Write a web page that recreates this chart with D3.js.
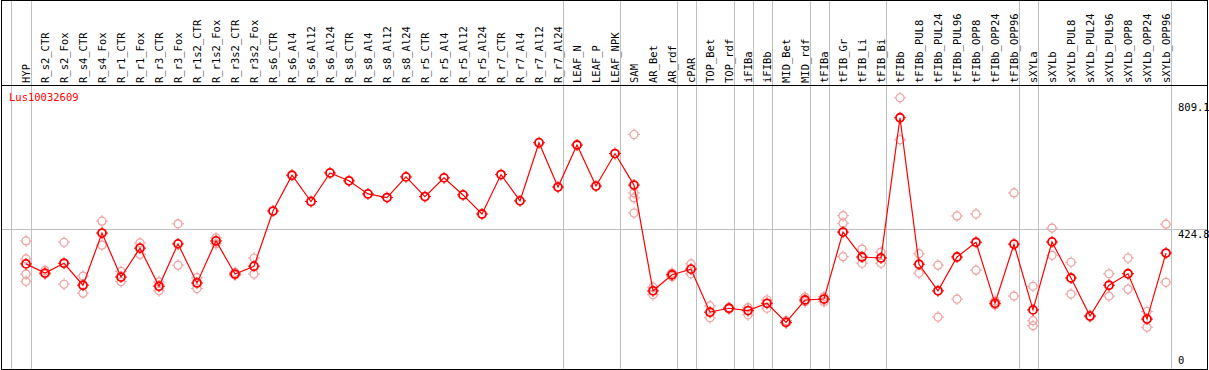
<!DOCTYPE html>
<html lang="en">
<head>
  <meta charset="UTF-8" />
  <title>Lus10032609 expression</title>
  <script src="https://d3js.org/d3.v7.min.js"></script>
  <style>
    body {
      margin: 0;
      background: white;
    }
    svg {
      display: block;
      font-family: "DejaVu Sans Mono", monospace;
    }
    .grid {
      stroke: #c0c0c0;
      stroke-width: 1;
      shape-rendering: crispEdges;
    }
    .frame {
      fill: none;
      stroke: black;
      stroke-width: 1;
      shape-rendering: crispEdges;
    }
  </style>
</head>
<body>
  <svg width="1209" height="370"></svg>
  <script>
    const svg = d3.select("svg");

    // Tissues / conditions, in plotted order
    const categories = [
      "HYP", "R_s2_CTR", "R_s2_Fox", "R_s4_CTR", "R_s4_Fox", "R_r1_CTR", "R_r1_Fox",
      "R_r3_CTR", "R_r3_Fox", "R_r1s2_CTR", "R_r1s2_Fox", "R_r3s2_CTR", "R_r3s2_Fox",
      "R_s6_CTR", "R_s6_Al4", "R_s6_Al12", "R_s6_Al24", "R_s8_CTR", "R_s8_Al4",
      "R_s8_Al12", "R_s8_Al24", "R_r5_CTR", "R_r5_Al4", "R_r5_Al12", "R_r5_Al24",
      "R_r7_CTR", "R_r7_Al4", "R_r7_Al12", "R_r7_Al24", "LEAF_N", "LEAF_P", "LEAF_NPK",
      "SAM", "AR_Bet", "AR_rdf", "cPAR", "TOP_Bet", "TOP_rdf", "iFIBa", "iFIBb",
      "MID_Bet", "MID_rdf", "tFIBa", "tFIB_Gr", "tFIB_Li", "tFIB_Bi", "tFIBb",
      "tFIBb_PUL8", "tFIBb_PUL24", "tFIBb_PUL96", "tFIBb_OPP8", "tFIBb_OPP24", "tFIBb_OPP96",
      "sXYLa", "sXYLb", "sXYLb_PUL8", "sXYLb_PUL24", "sXYLb_PUL96", "sXYLb_OPP8",
      "sXYLb_OPP24", "sXYLb_OPP96"
    ];

    // Mean expression per category
    const means = [
      317, 289, 319, 252, 411, 277, 365, 249, 378, 259, 387, 286, 310,
      478, 587, 507, 594, 570, 530, 519, 582, 522, 579, 527, 469,
      589, 509, 686, 551, 679, 554, 653,
      557, 235, 284, 301, 170, 182, 175, 197,
      139, 207, 210, 414, 338, 335, 762,
      316, 235, 338, 383, 197, 377,
      177, 384, 274, 158, 252, 287, 149, 350
    ];

    // Individual replicates (empty where only the mean is shown)
    const replicates = [
      [387, 332, 286, 264], [297, 286], [383, 255], [280, 228], [447, 374], [294, 263], [381, 346],
      [262, 235], [439, 313], [275, 242], [396, 378], [291, 283], [335, 286],
      [], [], [], [], [], [], [], [], [], [], [], [],
      [], [], [], [], [], [], [],
      [711, 533, 518, 472], [246, 223], [289, 278], [317, 287], [189, 153], [184, 180], [184, 162], [207, 182],
      [144, 137], [216, 202], [217, 202], [464, 441, 339], [362, 319], [353, 319], [823, 695],
      [348, 289], [313, 155], [463, 210], [469, 298], [204, 192], [533, 219],
      [249, 144, 129], [426, 343], [322, 225], [156, 159], [287, 219], [335, 240], [172, 124], [438, 261]
    ];

    // Separators are drawn right after these categories
    const groupEnds = [
      "HYP", "R_r7_Al24", "LEAF_NPK", "AR_rdf", "cPAR", "TOP_rdf", "iFIBa", "iFIBb",
      "MID_rdf", "tFIBa", "tFIB_Bi", "tFIBb_OPP96", "sXYLa", "sXYLb_OPP96"
    ];

    const yTicks = [0, 424.8, 809.1];
    const geneName = "Lus10032609";

    const W = 1209, H = 370;
    const headerBottom = 85.5, plotBottom = 368;

    const x = d3.scaleBand()
      .domain(categories)
      .range([16.5, 16.5 + categories.length * 19]);
    const cx = c => x(c) + x.bandwidth() / 2;

    const y = d3.scaleLinear()
      .domain([0, 424.8])
      .range([plotBottom, 228.5]);

    // vertical separators through header and plot
    const seps = [cx(categories[0]) - 15.5].concat(groupEnds.map(c => cx(c) + 4.5));
    svg.selectAll("line.vsep")
      .data(seps)
      .enter().append("line")
      .attr("class", "grid")
      .attr("x1", d => Math.round(d) + 0.5).attr("x2", d => Math.round(d) + 0.5)
      .attr("y1", 0).attr("y2", H);

    // horizontal grid at the middle tick
    svg.append("line")
      .attr("class", "grid")
      .attr("x1", 1).attr("x2", 1207)
      .attr("y1", Math.round(y(424.8)) + 0.5).attr("y2", Math.round(y(424.8)) + 0.5);

    // rotated category labels
    svg.append("g")
      .selectAll("text")
      .data(categories)
      .enter().append("text")
      .attr("transform", d => `translate(${cx(d) + 4},83) rotate(-90)`)
      .attr("font-size", "10.5px")
      .attr("fill", "black")
      .text(d => d);

    // right axis labels
    svg.append("g")
      .selectAll("text")
      .data(yTicks)
      .enter().append("text")
      .attr("x", 1178)
      .attr("y", d => d === 0 ? plotBottom - 4 : y(d) + 9)
      .attr("font-size", "10.5px")
      .attr("fill", "black")
      .text(d => d === 0 ? "0" : d.toFixed(1));

    // gene label
    svg.append("text")
      .attr("x", 9).attr("y", 101)
      .attr("font-size", "10.5px")
      .attr("fill", "red")
      .text(geneName);

    // markers: circle with four small ticks
    function marker(g, color, width) {
      g.append("circle").attr("r", 4).attr("fill", "none")
        .attr("stroke", color).attr("stroke-width", width);
      [[0, -4, 0, -6], [0, 4, 0, 6], [-4, 0, -6, 0], [4, 0, 6, 0]].forEach(t => {
        g.append("line")
          .attr("x1", t[0]).attr("y1", t[1]).attr("x2", t[2]).attr("y2", t[3])
          .attr("stroke", color).attr("stroke-width", 1);
      });
    }

    const repPoints = [];
    categories.forEach((c, i) => {
      replicates[i].forEach(v => repPoints.push({ c: c, v: v }));
    });

    svg.append("g")
      .selectAll("g")
      .data(repPoints)
      .enter().append("g")
      .attr("transform", d => `translate(${cx(d.c)},${y(d.v)})`)
      .each(function () { marker(d3.select(this), "#f0a0a0", 1.2); });

    const meanPoints = categories.map((c, i) => ({ c: c, v: means[i] }));

    svg.append("path")
      .datum(meanPoints)
      .attr("fill", "none")
      .attr("stroke", "red")
      .attr("stroke-width", 1.2)
      .attr("d", d3.line().x(d => cx(d.c)).y(d => y(d.v)));

    svg.append("g")
      .selectAll("g")
      .data(meanPoints)
      .enter().append("g")
      .attr("transform", d => `translate(${cx(d.c)},${y(d.v)})`)
      .each(function () { marker(d3.select(this), "red", 1.8); });

    // frame and header divider
    svg.append("rect")
      .attr("class", "frame")
      .attr("x", 1.5).attr("y", 0.5)
      .attr("width", 1206).attr("height", 368.5);
    svg.append("line")
      .attr("class", "frame")
      .attr("x1", 1).attr("x2", 1207)
      .attr("y1", headerBottom).attr("y2", headerBottom);
  </script>
</body>
</html>
